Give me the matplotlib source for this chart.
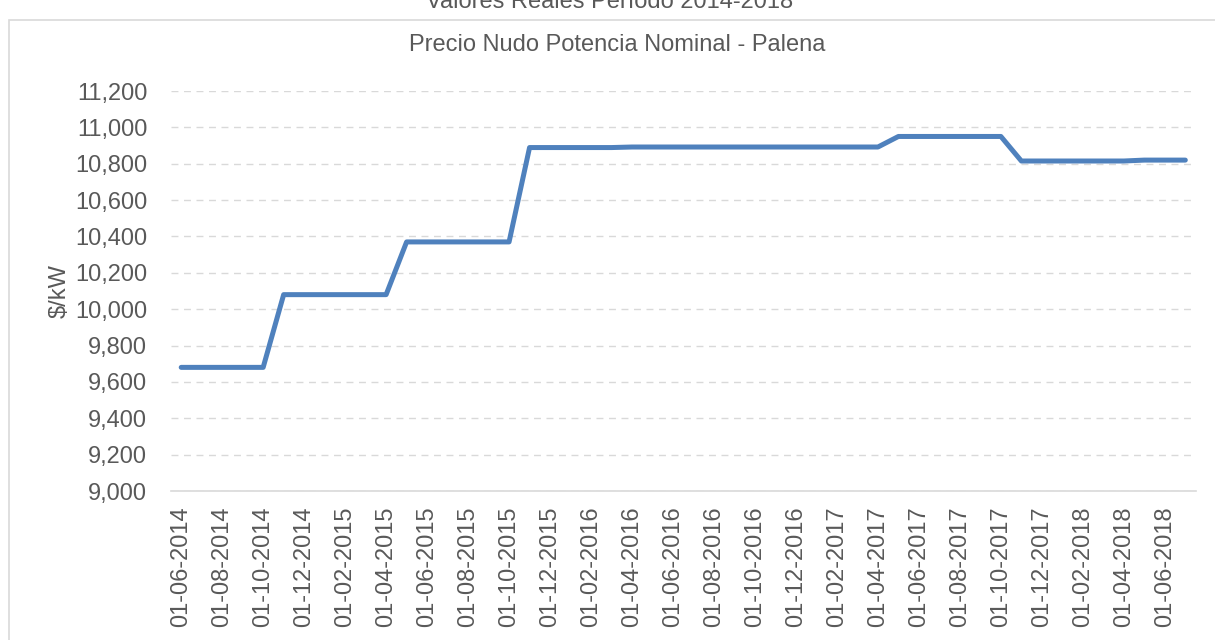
import matplotlib.pyplot as plt
import matplotlib.patches as patches
import pandas as pd

# monthly values, 01-06-2014 .. 01-07-2018
fechas = pd.date_range("2014-06-01", "2018-07-01", freq="MS")
precio = ([9680] * 5 + [10080] * 6 + [10370] * 6 + [10889] * 5 +
          [10892] * 13 + [10950] * 6 + [10815] * 6 + [10820] * 3)

titulo_externo = "Valores Reales Período 2014-2018"
titulo = "Precio Nudo Potencia Nominal - Palena"

plt.rcParams['font.family'] = ['Liberation Sans', 'DejaVu Sans']
gris = '#595959'
fs = 17

fig = plt.figure(figsize=(12.15, 6.4), dpi=100)
ax = fig.add_axes([0.1407, 0.2328, 0.8433, 0.625])

x = list(range(len(precio)))
ax.plot(x, precio, color='#4f81bd', linewidth=3.6, solid_capstyle='round',
        solid_joinstyle='round')

ax.set_xlim(-0.5, len(precio) - 0.5)
ax.set_ylim(9000, 11200)
ax.set_yticks(range(9000, 11201, 200))
ax.set_yticklabels([f"{v:,}" for v in range(9000, 11201, 200)])
ax.set_xticks(x[::2])
ax.set_xticklabels([d.strftime("%d-%m-%Y") for d in fechas[::2]], rotation=90)

ax.tick_params(length=0, labelsize=fs, labelcolor=gris)
ax.tick_params(axis='y', pad=17)
ax.tick_params(axis='x', pad=11)
ax.grid(axis='y', color='#d9d9d9', linestyle=(0, (5, 4)), linewidth=1)
ax.set_axisbelow(True)
for s in ['top', 'right', 'left']:
    ax.spines[s].set_visible(False)
ax.spines['bottom'].set_color('#d9d9d9')
ax.spines['bottom'].set_linewidth(1.2)

ax.set_ylabel("$/kW", fontsize=fs, color=gris, labelpad=3)

fig.text(0.508, 1 - 45 / 640, titulo, ha='center', va='center', fontsize=fs, color=gris)
fig.text(0.502, 1 - 8 / 640, titulo_externo, ha='center', va='baseline',
         fontsize=fs, color=gris)

# chart area border
fig.patches.append(patches.Rectangle((9 / 1215, -0.1), 1.2, 1 - 20 / 640 + 0.1,
                                     transform=fig.transFigure, fill=False,
                                     edgecolor='#d9d9d9', linewidth=1.2))

fig.savefig("out.png", dpi=100)
